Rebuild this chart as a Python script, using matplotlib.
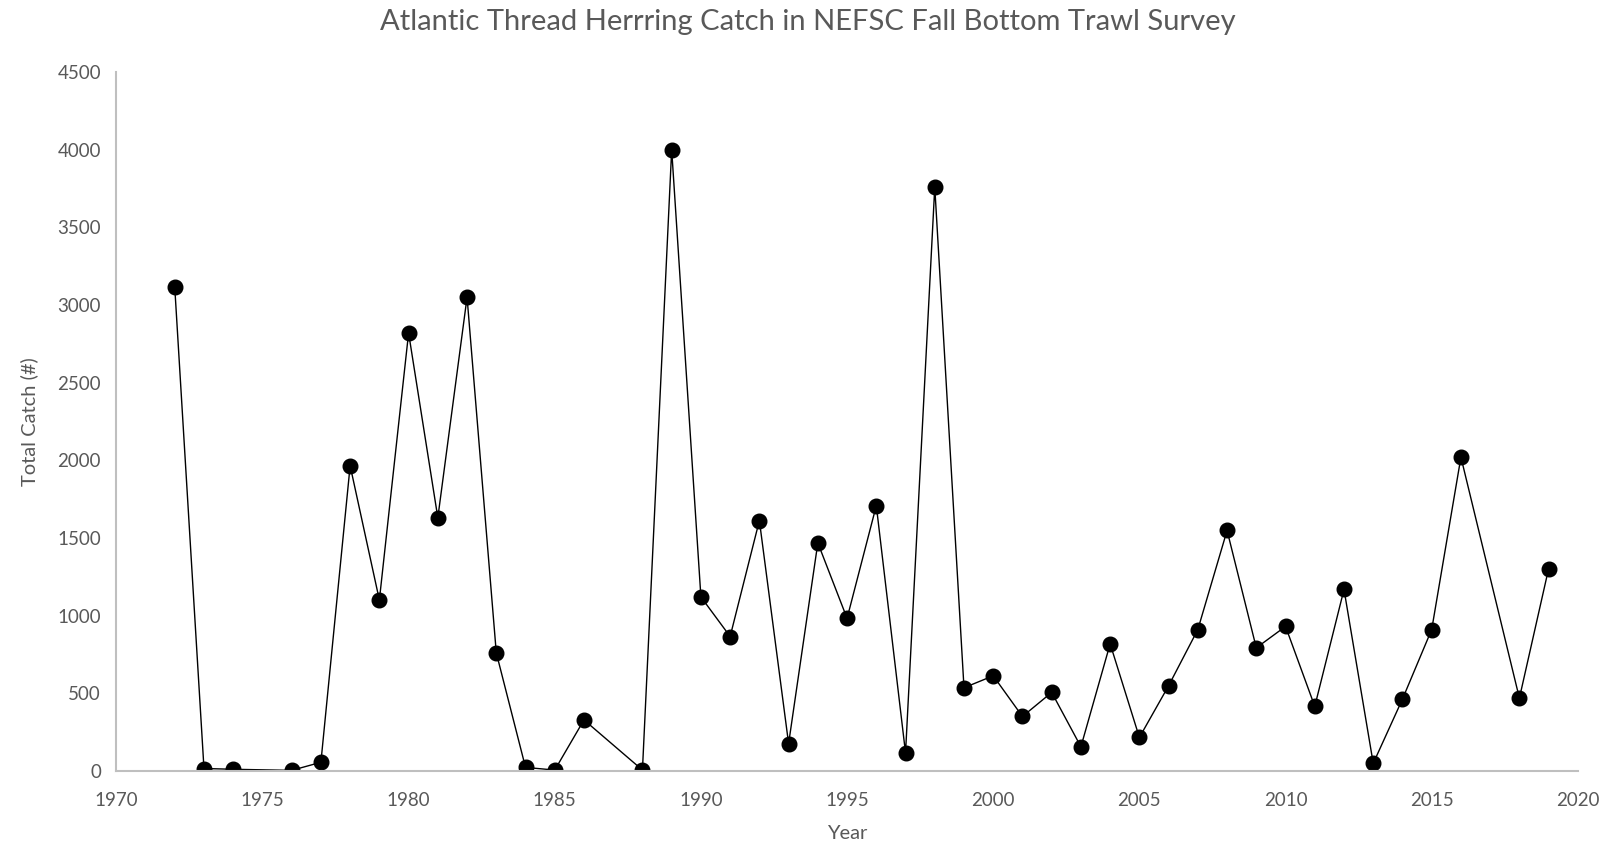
import matplotlib.pyplot as plt

# survey years (1975, 1987 and 2017 have no value in the source)
years = [1972, 1973, 1974, 1976, 1977, 1978, 1979, 1980, 1981, 1982, 1983, 1984,
         1985, 1986, 1988, 1989, 1990, 1991, 1992, 1993, 1994, 1995, 1996, 1997,
         1998, 1999, 2000, 2001, 2002, 2003, 2004, 2005, 2006, 2007, 2008, 2009,
         2010, 2011, 2012, 2013, 2014, 2015, 2016, 2018, 2019]
catch = [3115, 15, 10, 3, 55, 1965, 1100, 2820, 1630, 3050, 760, 22,
         5, 328, 5, 4000, 1120, 865, 1612, 175, 1468, 982, 1708, 115,
         3760, 535, 612, 350, 505, 155, 818, 215, 548, 910, 1548, 792,
         930, 415, 1168, 48, 462, 910, 2020, 468, 1302]

x_ticks = list(range(1970, 2021, 5))
y_ticks = list(range(0, 4501, 500))

text_color = "#595959"
axis_color = "#BFBFBF"
font = ["Lato", "DejaVu Sans"]

fig = plt.figure(figsize=(16.15, 8.48), dpi=100)
ax = fig.add_axes([0.072, 0.091, 0.905, 0.824])

ax.plot(years, catch, color="black", linewidth=1.0, marker="o",
        markersize=10.5, markerfacecolor="black", markeredgecolor="black")

ax.set_xlim(1970, 2020)
ax.set_ylim(0, 4500)
ax.set_xticks(x_ticks)
ax.set_yticks(y_ticks)
ax.set_xticklabels([str(t) for t in x_ticks], fontsize=13.5, color=text_color, family=font)
ax.set_yticklabels([str(t) for t in y_ticks], fontsize=13.5, color=text_color, family=font)
ax.tick_params(axis="x", length=0, pad=15)
ax.tick_params(axis="y", length=0, pad=11)

for side in ["top", "right"]:
    ax.spines[side].set_visible(False)
for side in ["left", "bottom"]:
    ax.spines[side].set_color(axis_color)
    ax.spines[side].set_linewidth(1.5)

ax.set_xlabel("Year", fontsize=14.5, color=text_color, family=font, labelpad=12)
ax.set_ylabel("Total Catch (#)", fontsize=14.5, color=text_color, family=font, labelpad=14)
fig.suptitle("Atlantic Thread Herrring Catch in NEFSC Fall Bottom Trawl Survey",
             fontsize=21, color=text_color, family=font, y=0.974, va="center")

fig.savefig("out.png", dpi=100)
